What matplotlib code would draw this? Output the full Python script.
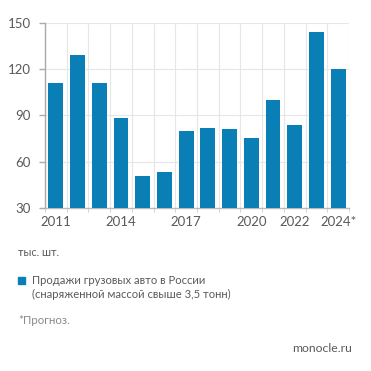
import matplotlib
matplotlib.use("Agg")
import matplotlib.pyplot as plt
import numpy as np
from matplotlib.patches import Rectangle

years = [2011, 2012, 2013, 2014, 2015, 2016, 2017, 2018, 2019, 2020, 2021, 2022, 2023, 2024]
sales = [111, 129, 111, 88, 51, 53, 80, 82, 81, 75, 100, 84, 144, 120]
tick_years = [2011, 2014, 2017, 2020, 2022, 2024]
tick_labels = ["2011", "2014", "2017", "2020", "2022", "2024*"]
y_ticks = [30, 60, 90, 120, 150]

plt.rcParams['font.family'] = ['Lato', 'DejaVu Sans']
blue = "#0a7fb5"
txt = "#5a5a5a"

fig = plt.figure(figsize=(3.71, 3.71), dpi=100)
ax = fig.add_axes([45/371, 1-208/371, 304/371, (208-22.5)/371])
x = np.arange(len(years))
ax.bar(x, [s - 30 for s in sales], bottom=30, width=0.69, color=blue, zorder=3)
ax.set_xlim(-0.5, len(years) - 0.5)
ax.set_ylim(30, 150)
ax.set_yticks(y_ticks)
ax.set_yticklabels([str(v) for v in y_ticks], fontsize=9.5, color=txt)
ax.set_xticks([years.index(y) for y in tick_years])
ax.set_xticklabels(tick_labels, fontsize=9.5, color=txt)
ax.tick_params(axis='x', length=0, pad=6)
ax.tick_params(axis='y', length=4, width=1, color="#aaaaaa", pad=6)
ax.set_xticks(np.arange(-0.5, len(years), 1), minor=True)
ax.tick_params(axis='x', which='minor', length=3, color="#cccccc")
ax.grid(True, which='minor', axis='x', color="#e6e6e6", lw=0.8, zorder=0)
ax.grid(True, which='major', axis='y', color="#e6e6e6", lw=0.8, zorder=0)
ax.grid(False, which='major', axis='x')
for s in ['top', 'right']:
    ax.spines[s].set_visible(False)
ax.spines['left'].set_color("#aaaaaa")
ax.spines['bottom'].set_color("#bbbbbb")
ax.spines['left'].set_linewidth(1)
ax.spines['bottom'].set_linewidth(1)

fig.text(18/371, 1-253/371, "тыс. шт.", fontsize=7.8, color=txt, va='center')
fig.patches.append(Rectangle((18/371, 1-284/371), 7/371, 7/371, transform=fig.transFigure, color=blue))
fig.text(32/371, 1-281/371, "Продажи грузовых авто в России", fontsize=8.1, color=txt, va='center')
fig.text(32/371, 1-294/371, "(снаряженной массой свыше 3,5 тонн)", fontsize=8.1, color=txt, va='center')
fig.text(18/371, 1-320/371, "*Прогноз.", fontsize=8.3, color="#8a8a8a", va='center')
fig.text(352/371, 1-349/371, "monocle.ru", fontsize=8.8, color=txt, va='center', ha='right')

fig.savefig("out.png", dpi=100)
